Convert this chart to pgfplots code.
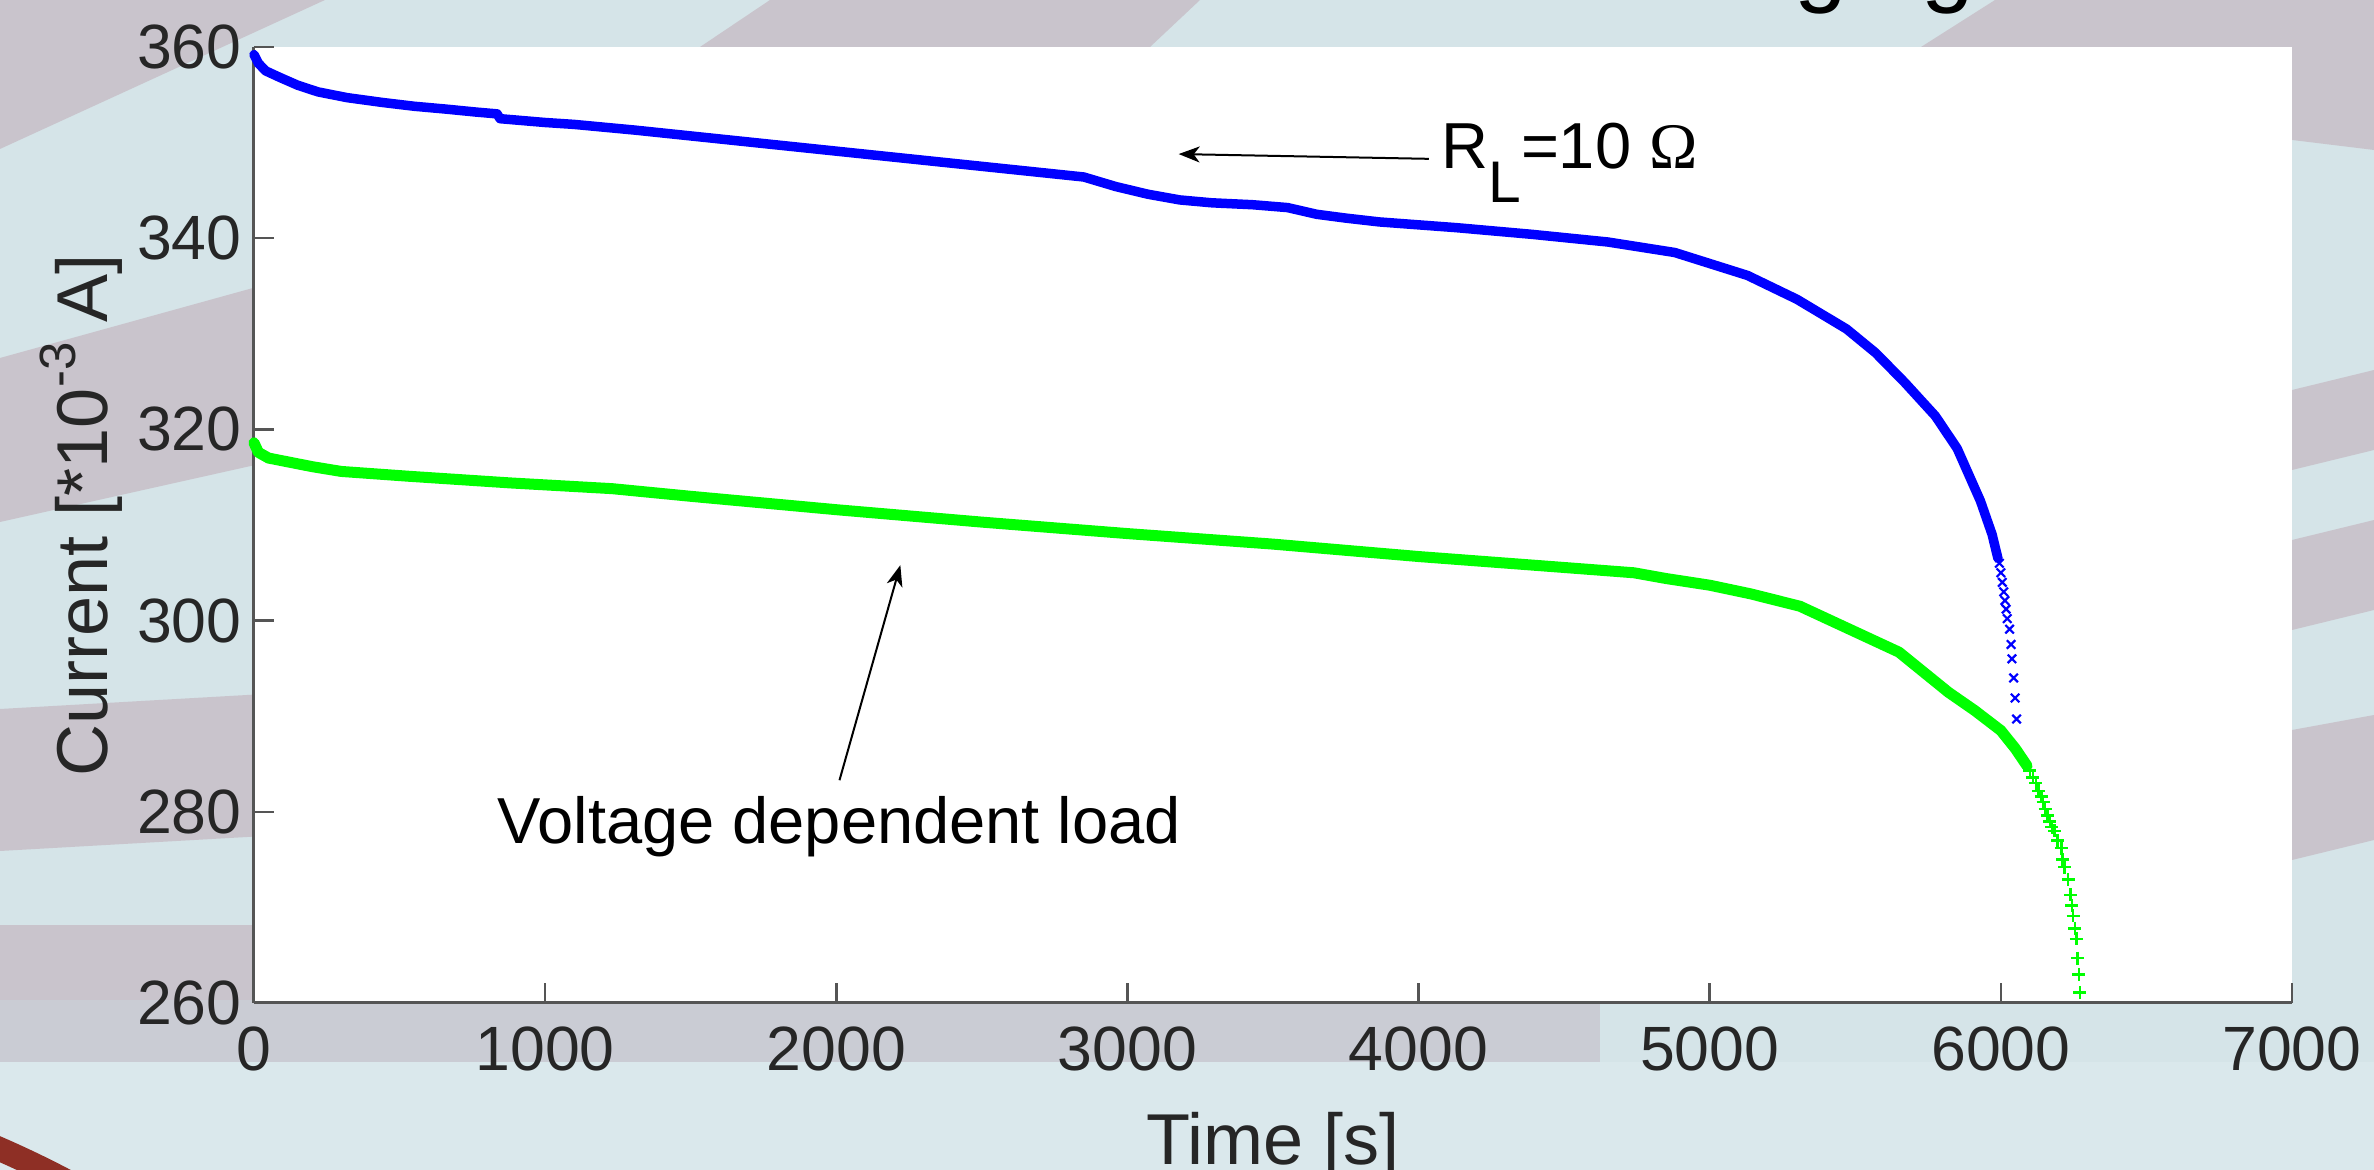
\documentclass[border=0pt]{standalone}
\usepackage{pgfplots}
\pgfplotsset{compat=1.18}
\usepackage{pgfplotstable}
\usepackage{fontspec}
\setmainfont{Liberation Sans}
\newfontfamily\omegafont{Liberation Serif}
\usetikzlibrary{arrows.meta}
\definecolor{bgteal}{HTML}{D5E4E8}
\definecolor{bglight}{HTML}{DAE8EC}
\definecolor{bgmauve}{HTML}{C9C4CC}
\definecolor{bggrey}{HTML}{CACCD4}
\definecolor{darkred}{HTML}{8E2F25}
\definecolor{axisgray}{HTML}{555555}
\definecolor{txtgray}{HTML}{262626}
\definecolor{mblue}{HTML}{0000FF}
\definecolor{mgreen}{HTML}{00FF00}

\pgfplotstableread{
x y
0 359.2
15 358.3
40 357.5
90 356.8
150 356.0
220 355.3
320 354.7
440 354.2
550 353.8
660 353.5
760 353.2
835 353.0
845 352.5
1000 352.1
1100 351.9
1310 351.3
1530 350.6
1750 349.9
1970 349.2
2190 348.5
2410 347.8
2630 347.1
2850 346.4
2960 345.4
3070 344.6
3180 344.0
3290 343.7
3430 343.5
3550 343.2
3650 342.5
3750 342.1
3865 341.7
4130 341.1
4390 340.4
4650 339.6
4880 338.5
5130 336.1
5300 333.6
5470 330.5
5570 328.0
5670 324.9
5775 321.4
5850 318.0
5930 312.5
5970 309.0
5990 306.5
}\bluedense

\pgfplotstableread{
x y
5995 306.0
6000 305.0
6005 304.0
6010 303.0
6014 302.1
6018 301.2
6022 300.2
6030 299.1
6035 297.5
6038 296.0
6044 294.0
6049 291.9
6054 289.7
}\bluetail

\pgfplotstableread{
x y
0 318.6
15 317.6
50 317.0
100 316.7
200 316.1
300 315.6
530 315.1
880 314.4
1230 313.8
1500 313.0
2000 311.6
2500 310.3
3000 309.1
3500 308.0
4000 306.7
4480 305.6
4740 305.0
4850 304.4
5000 303.7
5140 302.8
5310 301.5
5480 299.1
5650 296.7
5820 292.5
5910 290.6
6000 288.5
6050 286.6
6090 284.8
}\greendense

\pgfplotstableread{
x y
6100 284.3
6110 283.6
6120 283.0
6130 282.2
6140 281.6
6145 281.0
6152 280.3
6160 279.6
6168 279.0
6175 278.4
6185 278.0
6195 277.0
6208 276.2
6212 275.0
6219 274.2
6231 272.9
6239 271.3
6244 270.2
6248 269.1
6254 267.8
6259 266.7
6263 264.7
6268 263.0
6271 261.1
}\greentail

\begin{document}
\begin{tikzpicture}
\useasboundingbox (-25.4mm,-16.7mm) rectangle (212mm,100.3mm);
\clip (-25.4mm,-16.7mm) rectangle (212mm,100.3mm);
% slide background (pixel coordinates, y downward)
\begin{scope}[x=0.1mm,y=-0.1mm,shift={(-25.4mm,100.3mm)}]
\fill[bgteal] (0,0) rectangle (2374,1170);
\fill[bgmauve] (0,0) -- (325,0) -- (0,149) -- cycle;
\fill[bgmauve] (700,47) -- (770,0) -- (1200,0) -- (1150,47) -- cycle;
\fill[bgmauve] (1921,47) -- (1995,0) -- (2374,0) -- (2374,150) -- (2292,140) -- (2292,47) -- cycle;
\fill[bgmauve] (0,358) -- (300,275) -- (300,455) -- (0,522) -- cycle;
\fill[bgmauve] (0,709) -- (300,692) -- (300,834) -- (0,851) -- cycle;
\fill[bgmauve] (0,925) -- (300,925) -- (300,1000) -- (0,1000) -- cycle;
\fill[bggrey] (0,1000) -- (1600,1000) -- (1600,1062) -- (0,1062) -- cycle;
\fill[bglight] (0,1062) rectangle (2374,1170);
\fill[bgmauve] (2292,390) -- (2374,370) -- (2374,450) -- (2292,470) -- cycle;
\fill[bgmauve] (2292,540) -- (2374,520) -- (2374,610) -- (2292,630) -- cycle;
\fill[bgmauve] (2292,730) -- (2374,715) -- (2374,840) -- (2292,860) -- cycle;
\draw[darkred, line width=2.4mm] (-400,2066) circle[radius=100mm];
\end{scope}
\begin{axis}[
  at={(0,0)}, anchor=south west,
  width=203.8mm, height=95.6mm, scale only axis,
  xmin=0, xmax=7000, ymin=260, ymax=360,
  axis x line*=bottom, axis y line*=left,
  axis line style={draw=axisgray, line width=0.3mm, -},
  axis background/.style={fill=white},
  xtick={0,1000,...,7000}, ytick={260,280,...,360},
  tick align=inside, major tick length=2mm,
  tick style={draw=axisgray, line width=0.25mm},
  scaled ticks=false,
  /pgf/number format/1000 sep={},
  /pgf/number format/assume math mode=true,
  ticklabel style={font=\fontsize{17.8}{20}\selectfont, text=txtgray},
  xticklabel style={yshift=-1.1mm},
  xlabel={Time [s]},
  ylabel={Current [*10\raisebox{0.45em}{\fontsize{14.5}{16}\selectfont -3} A]},
  xlabel style={at={(axis description cs:0.5,0)}, anchor=base, yshift=-16.2mm, inner sep=0pt, font=\fontsize{20.5}{24}\selectfont, text=txtgray},
  ylabel style={at={(axis description cs:0,0.51)}, anchor=base, yshift=14.6mm, inner sep=0pt, font=\fontsize{20.5}{24}\selectfont, text=txtgray},
  clip=false,
]
\addplot[mblue, line width=0.95mm, line join=round, line cap=round] table {\bluedense};
\addplot[mblue, only marks, mark=x, mark size=0.6mm, mark options={line width=0.22mm}] table {\bluetail};
\addplot[mgreen, line width=1.1mm, line join=round, line cap=round] table {\greendense};
\addplot[mgreen, only marks, mark=+, mark size=0.65mm, mark options={line width=0.25mm}] table {\greentail};
\draw[-{Stealth[length=2.1mm,width=1.6mm,inset=0.6mm]}, line width=0.2mm, black] (axis cs:4035,348.3) -- (axis cs:3176,348.8);
\draw[-{Stealth[length=2.1mm,width=1.6mm,inset=0.6mm]}, line width=0.2mm, black] (axis cs:2011,283.3) -- (axis cs:2220,305.8);
\node[anchor=base west, inner sep=0pt, font=\fontsize{18.5}{22}\selectfont] at (axis cs:4076,347.3)
  {R\raisebox{-0.52em}{\fontsize{16.7}{20}\selectfont L}=10 {\omegafont Ω}};
\node[anchor=base west, inner sep=0pt, font=\fontsize{18.5}{22}\selectfont] at (axis cs:834.5,276.7) {Voltage dependent load};
\end{axis}
\node[anchor=base east, inner sep=0pt, font=\fontsize{27}{32}\selectfont, text=black] at (172.1mm,100.8mm) {Discharging};
\end{tikzpicture}
\end{document}
